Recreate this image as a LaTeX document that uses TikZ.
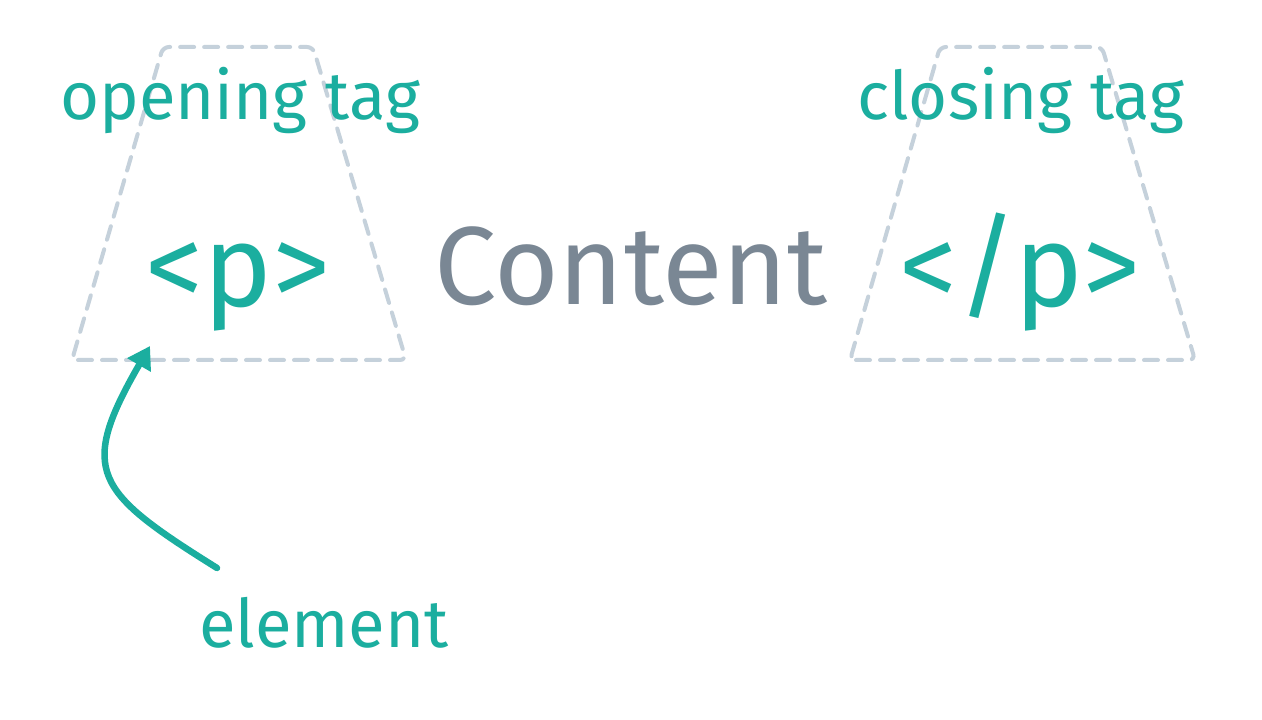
\documentclass[tikz,border=0pt]{standalone}
\usepackage{fontspec}
\setmainfont{Fira Sans}
\usetikzlibrary{arrows.meta}
\definecolor{tagteal}{HTML}{1BAE9F}
\definecolor{contentgray}{HTML}{7A8794}
\definecolor{boxgray}{HTML}{C5D1DB}
\begin{document}
\begin{tikzpicture}[x=1pt,y=1pt]
	\useasboundingbox[fill=white] (0,0) rectangle (1262,720);
	% corners of the two tag boxes
	\coordinate (o1) at (72,360);  \coordinate (o2) at (406,360);
	\coordinate (o3) at (313,673); \coordinate (o4) at (163,673);
	\coordinate (c1) at (850,360); \coordinate (c2) at (1195,360);
	\coordinate (c3) at (1102,673); \coordinate (c4) at (940,673);
	\draw[boxgray,line width=4pt,dash pattern=on 14pt off 10pt,line cap=round,rounded corners=6pt] (o1) -- (o2) -- (o3) -- (o4) -- cycle;
	\draw[boxgray,line width=4pt,dash pattern=on 14pt off 10pt,line cap=round,rounded corners=6pt] (c1) -- (c2) -- (c3) -- (c4) -- cycle;
	% texts
	\node[tagteal, anchor=base, inner sep=0pt, font=\fontsize{67}{70}\selectfont] (open) at (240,600) {opening tag};
	\node[tagteal, anchor=base, inner sep=0pt, font=\fontsize{67}{70}\selectfont] (close) at (1021,600) {closing tag};
	\node[tagteal, anchor=base, inner sep=0pt, font=\fontsize{116}{118}\selectfont] (p) at (238,413) {<p>};
	\node[contentgray, anchor=base, inner sep=0pt, font=\fontsize{111}{113}\selectfont] (content) at (631,415) {Content};
	\node[tagteal, anchor=base, inner sep=0pt, font=\fontsize{116}{118}\selectfont] (endp) at (1020,413) {</p>};
	\node[tagteal, anchor=base, inner sep=0pt, font=\fontsize{67}{70}\selectfont] (element) at (324,72) {element};
	% arrow to the opening tag
	\coordinate (tail) at (217,152);
	\coordinate (tip) at (150,374);
	\draw[tagteal,line width=6.5pt,line cap=round,-{Triangle[length=22pt,width=26pt]}](tail) to [out=148,in=240,looseness=1.6](tip);
\end{tikzpicture}
\end{document}
